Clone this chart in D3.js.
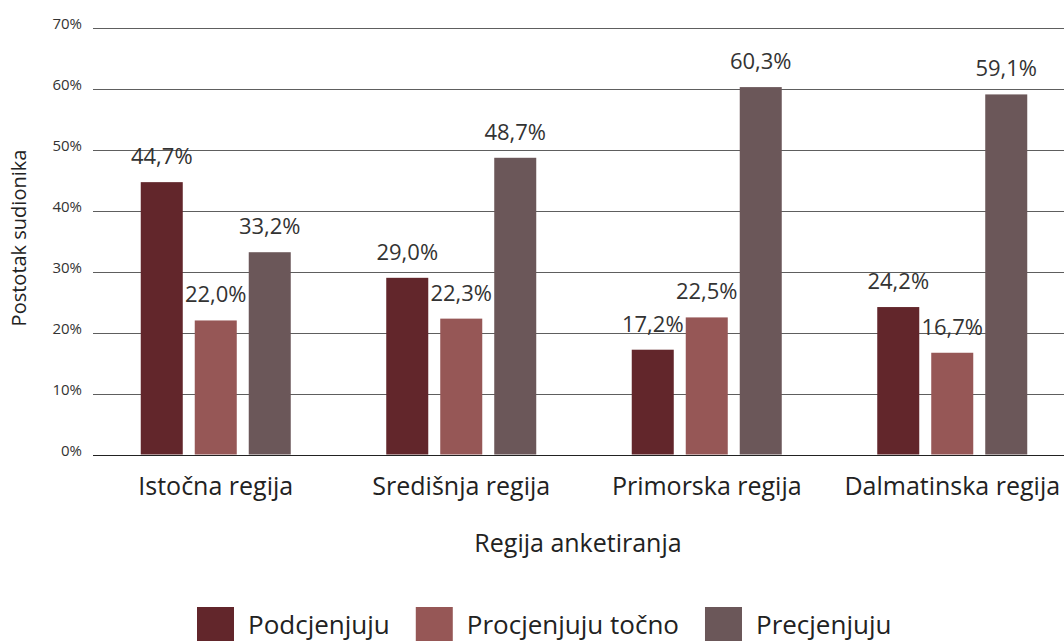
<!DOCTYPE html>
<html>
<head>
<meta charset="utf-8">
<script src="https://cdn.jsdelivr.net/npm/d3@7"></script>
<style>
  body { margin: 0; background: #fff; }
  svg { display: block; font-family: 'Open Sans', sans-serif; }
</style>
</head>
<body>
<div id="chart"></div>
<script>
// data
const regions = ['Istočna regija', 'Središnja regija', 'Primorska regija', 'Dalmatinska regija'];
const seriesNames = ['Podcjenjuju', 'Procjenjuju točno', 'Precjenjuju'];
const podcjenjuju = [44.7, 29.0, 17.2, 24.2];
const procjenjuju = [22.0, 22.3, 22.5, 16.7];
const precjenjuju = [33.2, 48.7, 60.3, 59.1];
const yTicks = [0, 10, 20, 30, 40, 50, 60, 70];
const colors = ['#62262b', '#965756', '#6b5759'];

const seriesValues = [podcjenjuju, procjenjuju, precjenjuju];

const width = 1064;
const height = 641;
const margin = { top: 28, right: -11, bottom: 186, left: 93 };

const svg = d3.select('#chart')
  .append('svg')
  .attr('width', width)
  .attr('height', height);

// scales
const x0 = d3.scaleBand()
  .domain(regions)
  .range([margin.left, width - margin.right]);

const x1 = d3.scaleBand()
  .domain(seriesNames)
  .range([0, 150])
  .paddingInner(0.222);

const y = d3.scaleLinear()
  .domain([0, 70])
  .range([height - margin.bottom - 0.5, margin.top]);

// gridlines
svg.append('g')
  .selectAll('line')
  .data(yTicks)
  .join('line')
  .attr('x1', margin.left)
  .attr('x2', width)
  .attr('y1', d => Math.round(y(d)) + 0.5)
  .attr('y2', d => Math.round(y(d)) + 0.5)
  .attr('stroke', d => d === 0 ? '#222' : '#5e5e5e')
  .attr('stroke-width', 1);

// y tick labels
svg.append('g')
  .selectAll('text')
  .data(yTicks)
  .join('text')
  .attr('x', 82)
  .attr('y', d => y(d) + 1)
  .attr('text-anchor', 'end')
  .attr('font-size', 15)
  .attr('fill', '#333')
  .text(d => d + '%');

const fmt = v => d3.format('.1f')(v).replace('.', ',') + '%';

// bars
const groups = svg.append('g')
  .selectAll('g')
  .data(regions)
  .join('g')
  .attr('transform', d => `translate(${x0(d) + (x0.bandwidth() - 150) / 2},0)`);

groups.selectAll('rect')
  .data((r, i) => seriesNames.map((s, j) => ({ s, j, v: seriesValues[j][i] })))
  .join('rect')
  .attr('x', d => x1(d.s))
  .attr('y', d => y(d.v))
  .attr('width', x1.bandwidth())
  .attr('height', d => y(0) - y(d.v))
  .attr('fill', d => colors[d.j]);

groups.selectAll('text')
  .data((r, i) => seriesNames.map((s, j) => ({ s, j, v: seriesValues[j][i] })))
  .join('text')
  .attr('x', d => x1(d.s) + x1.bandwidth() / 2)
  .attr('y', d => y(d.v) - 18)
  .attr('text-anchor', 'middle')
  .attr('font-size', 22)
  .attr('fill', '#333')
  .text(d => fmt(d.v));

// category labels
svg.append('g')
  .selectAll('text')
  .data(regions)
  .join('text')
  .attr('x', d => x0(d) + x0.bandwidth() / 2)
  .attr('y', 495)
  .attr('text-anchor', 'middle')
  .attr('font-size', 25)
  .attr('fill', '#222')
  .text(d => d);

// axis titles
svg.append('text')
  .attr('x', 578)
  .attr('y', 552)
  .attr('text-anchor', 'middle')
  .attr('font-size', 25)
  .attr('fill', '#222')
  .text('Regija anketiranja');

svg.append('text')
  .attr('transform', 'translate(26,238)rotate(-90)')
  .attr('text-anchor', 'middle')
  .attr('font-size', 20)
  .attr('fill', '#222')
  .text('Postotak sudionika');

// legend
const legend = svg.append('g').attr('transform', 'translate(197,607)');
let lx = 0;
seriesNames.forEach((name, i) => {
  const item = legend.append('g').attr('transform', `translate(${lx},0)`);
  item.append('rect')
    .attr('width', 37)
    .attr('height', 37)
    .attr('fill', colors[i]);
  const t = item.append('text')
    .attr('x', 51)
    .attr('y', 27)
    .attr('font-size', 26)
    .attr('fill', '#222')
    .text(name);
  lx += 51 + t.node().getComputedTextLength() + 26;
});
</script>
</body>
</html>
